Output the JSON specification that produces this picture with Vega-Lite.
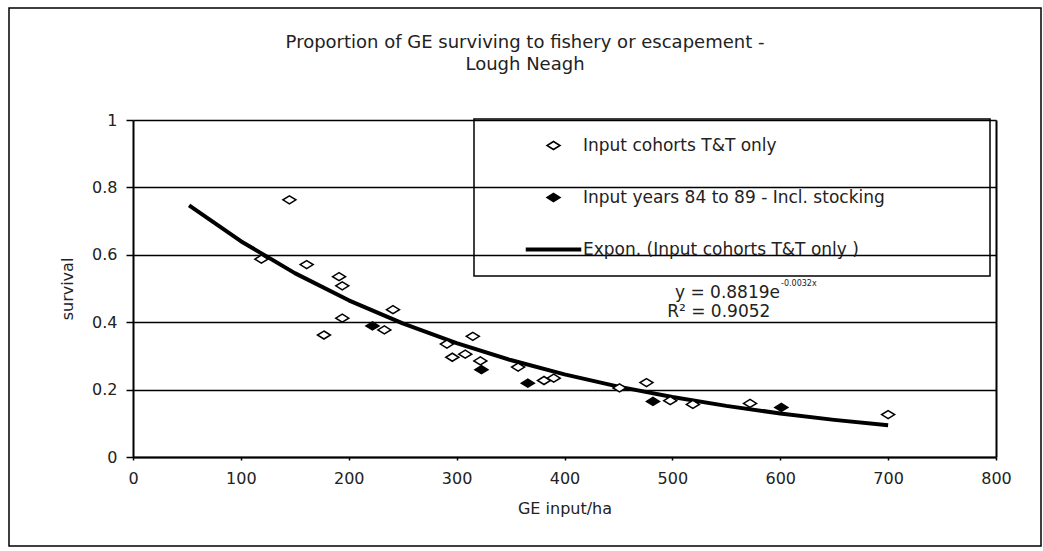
{
  "$schema": "https://vega.github.io/schema/vega-lite/v6.json",
  "width": 1032,
  "height": 538,
  "autosize": "none",
  "padding": {"left": 9, "top": 8, "right": 2, "bottom": 5},
  "background": "white",
  "config": {
    "font": "DejaVu Sans",
    "view": {"stroke": "black", "strokeWidth": 1.5},
    "legend": {"strokeWidth": 1.5}
  },
  "title": {
    "text": ["Proportion of GE surviving to fishery or escapement -", "Lough Neagh"],
    "anchor": "middle",
    "frame": "group",
    "offset": -66,
    "fontSize": 18,
    "fontWeight": "normal",
    "lineHeight": 22,
    "color": "#222"
  },
  "resolve": {"axis": {"y": "independent"}},
  "datasets": {
    "points": [
      {"input": 119, "survival": 0.587, "series": "Input cohorts T&T only"},
      {"input": 145, "survival": 0.763, "series": "Input cohorts T&T only"},
      {"input": 161, "survival": 0.571, "series": "Input cohorts T&T only"},
      {"input": 191, "survival": 0.535, "series": "Input cohorts T&T only"},
      {"input": 194, "survival": 0.508, "series": "Input cohorts T&T only"},
      {"input": 194, "survival": 0.412, "series": "Input cohorts T&T only"},
      {"input": 177, "survival": 0.362, "series": "Input cohorts T&T only"},
      {"input": 241, "survival": 0.437, "series": "Input cohorts T&T only"},
      {"input": 233, "survival": 0.377, "series": "Input cohorts T&T only"},
      {"input": 291, "survival": 0.335, "series": "Input cohorts T&T only"},
      {"input": 315, "survival": 0.358, "series": "Input cohorts T&T only"},
      {"input": 296, "survival": 0.296, "series": "Input cohorts T&T only"},
      {"input": 308, "survival": 0.305, "series": "Input cohorts T&T only"},
      {"input": 322, "survival": 0.285, "series": "Input cohorts T&T only"},
      {"input": 357, "survival": 0.267, "series": "Input cohorts T&T only"},
      {"input": 381, "survival": 0.227, "series": "Input cohorts T&T only"},
      {"input": 390, "survival": 0.234, "series": "Input cohorts T&T only"},
      {"input": 451, "survival": 0.205, "series": "Input cohorts T&T only"},
      {"input": 476, "survival": 0.221, "series": "Input cohorts T&T only"},
      {"input": 498, "survival": 0.167, "series": "Input cohorts T&T only"},
      {"input": 519, "survival": 0.156, "series": "Input cohorts T&T only"},
      {"input": 572, "survival": 0.159, "series": "Input cohorts T&T only"},
      {"input": 700, "survival": 0.126, "series": "Input cohorts T&T only"},
      {"input": 222, "survival": 0.389, "series": "Input years 84 to 89 - Incl. stocking"},
      {"input": 323, "survival": 0.259, "series": "Input years 84 to 89 - Incl. stocking"},
      {"input": 366, "survival": 0.219, "series": "Input years 84 to 89 - Incl. stocking"},
      {"input": 482, "survival": 0.165, "series": "Input years 84 to 89 - Incl. stocking"},
      {"input": 601, "survival": 0.147, "series": "Input years 84 to 89 - Incl. stocking"}
    ],
    "trend": [
      {"input": 52, "survival": 0.7467},
      {"input": 100, "survival": 0.6404},
      {"input": 150, "survival": 0.5457},
      {"input": 200, "survival": 0.4650},
      {"input": 250, "survival": 0.3963},
      {"input": 300, "survival": 0.3377},
      {"input": 350, "survival": 0.2877},
      {"input": 400, "survival": 0.2452},
      {"input": 450, "survival": 0.2089},
      {"input": 500, "survival": 0.1780},
      {"input": 550, "survival": 0.1517},
      {"input": 600, "survival": 0.1293},
      {"input": 650, "survival": 0.1102},
      {"input": 700, "survival": 0.0939}
    ]
  },
  "layer": [
    {
      "data": {"name": "trend"},
      "mark": {"type": "line", "color": "black", "strokeWidth": 4, "strokeJoin": "round"},
      "encoding": {
        "x": {
          "field": "input", "type": "quantitative",
          "scale": {"domain": [0, 800], "range": [124, 987], "nice": false, "zero": false},
          "axis": {
            "title": "GE input/ha",
            "orient": "bottom",
            "offset": -89,
            "values": [0, 100, 200, 300, 400, 500, 600, 700, 800],
            "grid": false,
            "domainColor": "black",
            "domainWidth": 2,
            "tickColor": "black",
            "tickSize": 3,
            "tickWidth": 1.5,
            "labelPadding": 10,
            "labelFontSize": 16,
            "labelColor": "#222",
            "labelFlush": false,
            "labelOverlap": false,
            "titleFontSize": 16,
            "titleFontWeight": "normal",
            "titleColor": "#222",
            "titlePadding": 14
          }
        },
        "y": {
          "field": "survival", "type": "quantitative",
          "scale": {"domain": [0, 1], "range": [449, 112], "nice": false, "zero": false},
          "axis": {
            "title": "survival",
            "orient": "left",
            "offset": -124,
            "values": [0, 0.2, 0.4, 0.6, 0.8, 1],
            "format": ".1~f",
            "grid": true,
            "gridColor": "black",
            "gridWidth": 1.7,
            "domainColor": "black",
            "domainWidth": 2,
            "tickColor": "black",
            "tickSize": 7,
            "tickWidth": 1.5,
            "labelPadding": 9,
            "labelFontSize": 16,
            "labelColor": "#222",
            "labelFlush": false,
            "labelOverlap": false,
            "titleFontSize": 16,
            "titleFontWeight": "normal",
            "titleColor": "#222",
            "titlePadding": 16
          }
        }
      }
    },
    {
      "data": {"name": "points"},
      "mark": {"type": "point", "strokeWidth": 1.5, "size": 100, "opacity": 1},
      "encoding": {
        "x": {"field": "input", "type": "quantitative"},
        "y": {
          "field": "survival", "type": "quantitative",
          "axis": {
            "orient": "right", "offset": -45, "title": null, "labels": false, "ticks": false,
            "grid": false, "domainColor": "black", "domainWidth": 2
          }
        },
        "shape": {
          "field": "series", "type": "nominal",
          "scale": {
            "domain": ["Input cohorts T&T only", "Input years 84 to 89 - Incl. stocking", "Expon. (Input cohorts T&T only )"],
            "range": ["M0,-0.8L1.3,0L0,0.8L-1.3,0Z", "M0,-0.8L1.3,0L0,0.8L-1.3,0Z", "M-5.4,-0.27L5.4,-0.27L5.4,0.27L-5.4,0.27Z"]
          },
          "legend": {
            "orient": "none", "legendX": 465, "legendY": 111,
            "title": "\u00a0", "titleOrient": "right", "titlePadding": 87,
            "strokeColor": "black", "padding": 18,
            "symbolSize": 100, "symbolStrokeWidth": 1.5,
            "symbolOffset": 53, "labelOffset": 21, "rowPadding": 34,
            "labelFontSize": 17, "labelColor": "#222", "labelLimit": 700
          }
        },
        "fill": {
          "field": "series", "type": "nominal",
          "scale": {
            "domain": ["Input cohorts T&T only", "Input years 84 to 89 - Incl. stocking", "Expon. (Input cohorts T&T only )"],
            "range": ["white", "black", "black"]
          },
          "legend": {
            "orient": "none", "legendX": 465, "legendY": 111,
            "title": "\u00a0", "titleOrient": "right", "titlePadding": 87,
            "strokeColor": "black", "padding": 18,
            "symbolSize": 100, "symbolStrokeWidth": 1.5,
            "symbolOffset": 53, "labelOffset": 21, "rowPadding": 34,
            "labelFontSize": 17, "labelColor": "#222", "labelLimit": 700
          }
        },
        "stroke": {
          "field": "series", "type": "nominal",
          "scale": {
            "domain": ["Input cohorts T&T only", "Input years 84 to 89 - Incl. stocking", "Expon. (Input cohorts T&T only )"],
            "range": ["black", "black", "black"]
          },
          "legend": {
            "orient": "none", "legendX": 465, "legendY": 111,
            "title": "\u00a0", "titleOrient": "right", "titlePadding": 87,
            "strokeColor": "black", "padding": 18,
            "symbolSize": 100, "symbolStrokeWidth": 1.5,
            "symbolOffset": 53, "labelOffset": 21, "rowPadding": 34,
            "labelFontSize": 17, "labelColor": "#222", "labelLimit": 700
          }
        }
      }
    },
    {
      "data": {"values": [{}]},
      "mark": {"type": "text", "align": "right", "baseline": "middle", "fontSize": 17, "color": "#222"},
      "encoding": {
        "x": {"datum": 599.8, "type": "quantitative"},
        "y": {"datum": 0.4875, "type": "quantitative", "axis": null},
        "text": {"value": "y = 0.8819e"}
      }
    },
    {
      "data": {"values": [{}]},
      "mark": {"type": "text", "align": "left", "baseline": "middle", "fontSize": 8, "dx": 1, "dy": -9, "color": "#222"},
      "encoding": {
        "x": {"datum": 599.8, "type": "quantitative"},
        "y": {"datum": 0.4875, "type": "quantitative", "axis": null},
        "text": {"value": "-0.0032x"}
      }
    },
    {
      "data": {"values": [{}]},
      "mark": {"type": "text", "align": "center", "baseline": "middle", "fontSize": 17, "color": "#222"},
      "encoding": {
        "x": {"datum": 543, "type": "quantitative"},
        "y": {"datum": 0.431, "type": "quantitative", "axis": null},
        "text": {"value": "R² = 0.9052"}
      }
    }
  ]
}
